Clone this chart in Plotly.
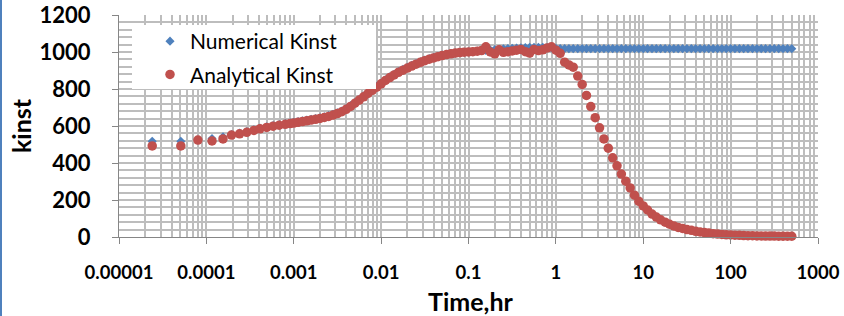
import plotly.graph_objects as go

# ---------------- data ----------------
time_hr = [
    2.4e-5, 5.1e-5, 8.0e-5, 1.16e-4, 1.55e-4, 1.94e-4, 2.4e-4, 2.9e-4, 3.5e-4, 4.1e-4,
    4.9e-4, 5.8e-4, 6.8e-4, 8.0e-4, 9.1e-4,
    0.001, 0.00112, 0.00126, 0.00141, 0.00158, 0.00178, 0.002, 0.00224, 0.00251, 0.00282,
    0.00316, 0.00355, 0.00398, 0.00447, 0.00501, 0.00562, 0.00631, 0.00708, 0.00794, 0.00891,
    0.01, 0.0112, 0.0126, 0.0141, 0.0158, 0.0178, 0.02, 0.0224, 0.0251, 0.0282,
    0.0316, 0.0355, 0.0398, 0.0447, 0.0501, 0.0562, 0.0631, 0.0708, 0.0794, 0.0891,
    0.1, 0.112, 0.126, 0.141, 0.158, 0.178, 0.2, 0.224, 0.251, 0.282,
    0.316, 0.355, 0.398, 0.447, 0.501, 0.562, 0.631, 0.708, 0.794, 0.891,
    1.0, 1.12, 1.26, 1.41, 1.58, 1.78, 2.0, 2.24, 2.51, 2.82,
    3.16, 3.55, 3.98, 4.47, 5.01, 5.62, 6.31, 7.08, 7.94, 8.91,
    10, 11.2, 12.6, 14.1, 15.8, 17.8, 20, 22.4, 25.1, 28.2,
    31.6, 35.5, 39.8, 44.7, 50.1, 56.2, 63.1, 70.8, 79.4, 89.1,
    100, 112, 126, 141, 158, 178, 200, 224, 251, 282,
    316, 355, 398, 447, 501,
]

numerical_kinst = [
    517, 517, 524, 532, 541, 554, 562, 570, 580, 589,
    596, 603, 608, 613, 617,
    620, 624, 628, 632, 636, 640, 645, 650, 656, 663,
    671, 681, 694, 710, 727, 744, 762, 780, 797, 814,
    832, 850, 866, 880, 894, 906, 917, 928, 938, 947,
    956, 964, 971, 977, 983, 988, 992, 995, 998, 1000,
    1001, 1003, 1005, 1007, 1009, 1011, 1013, 1015, 1017, 1019,
    1020, 1022, 1023, 1024, 1025, 1025, 1026, 1025, 1024, 1022,
    1020, 1019, 1018, 1018, 1018, 1018, 1018, 1018, 1018, 1018,
    1018, 1018, 1018, 1018, 1018, 1018, 1018, 1018, 1018, 1018,
    1018, 1018, 1018, 1018, 1018, 1018, 1018, 1018, 1018, 1018,
    1018, 1018, 1018, 1018, 1018, 1018, 1018, 1018, 1018, 1018,
    1018, 1018, 1018, 1018, 1018, 1018, 1018, 1018, 1018, 1018,
    1018, 1018, 1018, 1018, 1018,
]

analytical_kinst = [
    492, 492, 524, 519, 530, 551, 558, 566, 576, 585,
    592, 599, 604, 609, 613,
    616, 620, 624, 628, 632, 636, 641, 646, 652, 659,
    667, 677, 690, 706, 723, 740, 758, 776, 793, 810,
    828, 846, 862, 876, 890, 902, 913, 924, 934, 944,
    953, 961, 968, 975, 981, 986, 990, 994, 997, 999,
    1000, 1002, 1004, 1008, 1028, 1000, 990, 1012, 998, 1002,
    1006, 1010, 1014, 1002, 994, 1014, 1008, 1012, 1022, 1028,
    1010, 993, 945, 930, 918, 870, 825, 765, 705, 645,
    590, 530, 480, 428, 385, 340, 302, 265, 226, 193,
    168, 146, 124, 108, 93, 80, 69, 60, 52, 46,
    40, 36, 31, 27, 24, 21, 18, 16, 14, 12,
    11, 10, 9, 8, 7, 7, 6, 6, 5, 5,
    5, 4, 4, 4, 4,
]

x_tick_values = [1e-5, 1e-4, 1e-3, 1e-2, 1e-1, 1, 10, 100, 1000]
x_tick_labels = ["0.00001", "0.0001", "0.001", "0.01", "0.1", "1", "10", "100", "1000"]
y_tick_values = [0, 200, 400, 600, 800, 1000, 1200]

# ---------------- figure ----------------
W, H = 844, 316
L, R, T, B = 119, 26, 15, 79
PW, PH = W - L - R, H - T - B


def px(x):
    return (x - L) / PW


def py(y):
    return (H - B - y) / PH


GRID = "#bdbdbd"
AXIS = "#868686"
FONT = "Lato"

fig = go.Figure()
fig.add_trace(go.Scatter(
    x=time_hr, y=numerical_kinst, mode="markers", name="Numerical Kinst",
    legendgroup="num",
    marker=dict(symbol="diamond", size=7, color="#4f81bd", line=dict(width=0)),
    cliponaxis=False,
))
fig.add_trace(go.Scatter(
    x=time_hr, y=analytical_kinst, mode="markers", name="Analytical Kinst",
    legendgroup="ana",
    marker=dict(symbol="circle", size=9.5, color="#c0504d", line=dict(width=0)),
    cliponaxis=False,
))

minor_x = [m * 10.0 ** e for e in range(-5, 3) for m in range(2, 10)]

fig.update_xaxes(
    type="log", range=[-5, 3],
    tickmode="array", tickvals=x_tick_values, ticktext=x_tick_labels,
    ticks="outside", ticklen=6, tickcolor=AXIS, tickwidth=1,
    showline=True, linecolor=AXIS, linewidth=1,
    showgrid=True, gridcolor=GRID, gridwidth=1.5,
    minor=dict(tickmode="array", tickvals=minor_x, showgrid=True,
               gridcolor=GRID, gridwidth=1.5, ticks=""),
    tickfont=dict(family=FONT, size=18.5, color="black", weight="bold"),
    ticklabelstandoff=13,
    zeroline=False,
)
fig.update_yaxes(
    range=[0, 1200], tickmode="array", tickvals=y_tick_values,
    ticks="outside", ticklen=6, tickcolor=AXIS, tickwidth=1,
    showline=True, linecolor=AXIS, linewidth=1,
    showgrid=True, gridcolor=GRID, gridwidth=1.5,
    minor=dict(dtick=40, showgrid=True, gridcolor=GRID, gridwidth=1.5, ticks=""),
    tickfont=dict(family=FONT, size=22, color="black", weight="bold"),
    ticklabelstandoff=17,
    zeroline=False,
)

fig.update_layout(
    width=W, height=H,
    margin=dict(l=L, r=R, t=T, b=B, autoexpand=False),
    paper_bgcolor="white", plot_bgcolor="white",
    showlegend=True,
    legend=dict(
        x=px(150), y=py(21), xanchor="left", yanchor="top",
        bgcolor="rgba(0,0,0,0)", borderwidth=0, tracegroupgap=3,
        font=dict(family=FONT, size=21, color="black"),
    ),
    shapes=[
        dict(type="rect", xref="paper", yref="paper", layer="above",
             x0=px(132), x1=px(376), y0=py(89), y1=py(25),
             fillcolor="white", line=dict(width=0)),
        dict(type="line", xref="paper", yref="paper", layer="above",
             x0=px(1), x1=px(1), y0=py(0), y1=py(316),
             line=dict(color="#4f81bd", width=2)),
    ],
    annotations=[
        dict(text="kinst", xref="paper", yref="paper", x=px(21), y=py(126),
             xanchor="center", yanchor="middle", textangle=-90, showarrow=False,
             font=dict(family=FONT, size=25, color="black", weight="bold")),
        dict(text="Time,hr", xref="paper", yref="paper", x=px(470), y=py(301),
             xanchor="center", yanchor="middle", showarrow=False,
             font=dict(family=FONT, size=25, color="black", weight="bold")),
    ],
)

fig.write_html(
    "out.html",
    config={"displayModeBar": False},
    post_script="document.body.style.margin='0';document.body.style.padding='0';"
                "document.body.style.overflow='hidden';",
)
